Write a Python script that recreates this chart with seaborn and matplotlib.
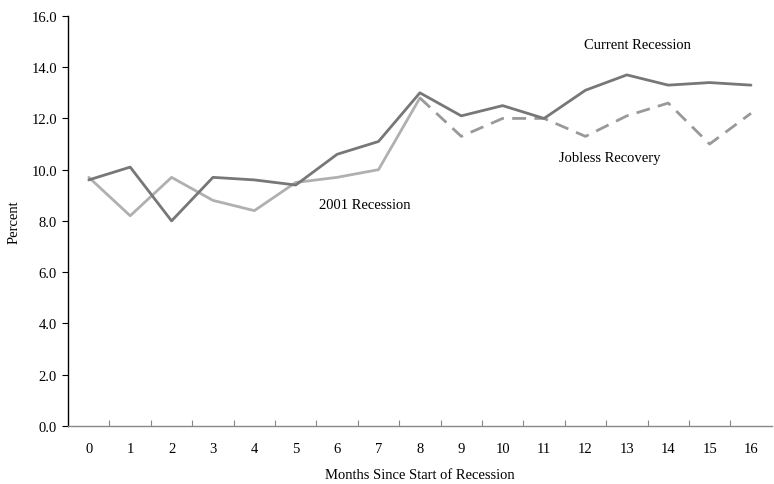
import numpy as np
import pandas as pd
import matplotlib
matplotlib.use('Agg')
import matplotlib.pyplot as plt
import seaborn as sns
from matplotlib.ticker import FixedLocator

## data
months = list(range(17))
current = [9.6, 10.1, 8.0, 9.7, 9.6, 9.4, 10.6, 11.1, 13.0, 12.1, 12.5, 12.0, 13.1, 13.7, 13.3, 13.4, 13.3]
rec2001 = [9.7, 8.2, 9.7, 8.8, 8.4, 9.5, 9.7, 10.0, 12.8]
jobless_months = list(range(8, 17))
jobless = [12.8, 11.3, 12.0, 12.0, 11.3, 12.1, 12.6, 11.0, 12.2]
yticks = [0, 2, 4, 6, 8, 10, 12, 14, 16]

df_cur = pd.DataFrame({'month': months, 'pct': current})
df_01 = pd.DataFrame({'month': months[:len(rec2001)], 'pct': rec2001})
df_jr = pd.DataFrame({'month': jobless_months, 'pct': jobless})

sns.set_style('white')
plt.rcParams['font.family'] = ['Liberation Serif', 'DejaVu Serif']
plt.rcParams['text.color'] = 'black'
plt.rcParams['axes.labelcolor'] = 'black'
plt.rcParams['xtick.color'] = 'black'
plt.rcParams['ytick.color'] = 'black'

fig = plt.figure(figsize=(7.74, 4.85), dpi=100)
ax = fig.add_axes([0.088, 0.12, 0.909, 0.845])

sns.lineplot(data=df_01, x='month', y='pct', color='#b0b0b0', linewidth=2.0, ax=ax)
sns.lineplot(data=df_jr, x='month', y='pct', color='#999999', linewidth=2.0,
             linestyle=(0, (5, 3)), ax=ax)
sns.lineplot(data=df_cur, x='month', y='pct', color='#777777', linewidth=2.0, ax=ax)

ax.set_xlim(-0.5, 16.5)
ax.set_ylim(0, 16)
ax.set_yticks(yticks)
ax.set_yticklabels(['%.1f' % v for v in yticks], fontsize=10.5)
ax.set_xticks(months)
ax.set_xticklabels([str(m) for m in months], fontsize=10.5)
ax.xaxis.set_minor_locator(FixedLocator([m + 0.5 for m in months[:-1]]))
ax.tick_params(axis='x', which='major', bottom=True, length=0, pad=12)
ax.tick_params(axis='x', which='minor', bottom=True, direction='in', length=4, width=0.8, color='#888888')
ax.tick_params(axis='y', which='major', left=True, direction='out', length=4, width=0.8, pad=4)

for s in ['top', 'right']:
    ax.spines[s].set_visible(False)
ax.spines['left'].set_color('black')
ax.spines['left'].set_linewidth(1.0)
ax.spines['bottom'].set_color('#888888')
ax.spines['bottom'].set_linewidth(1.0)

ax.set_xlabel('Months Since Start of Recession', fontsize=10.5, labelpad=9)
ax.set_ylabel('Percent', fontsize=10.5, labelpad=8)

ax.text(13.26, 14.88, 'Current Recession', fontsize=10.5, ha='center', va='center')
ax.text(12.59, 10.47, 'Jobless Recovery', fontsize=10.5, ha='center', va='center')
ax.text(6.67, 8.63, '2001 Recession', fontsize=10.5, ha='center', va='center')

fig.savefig('out.png', dpi=100)
